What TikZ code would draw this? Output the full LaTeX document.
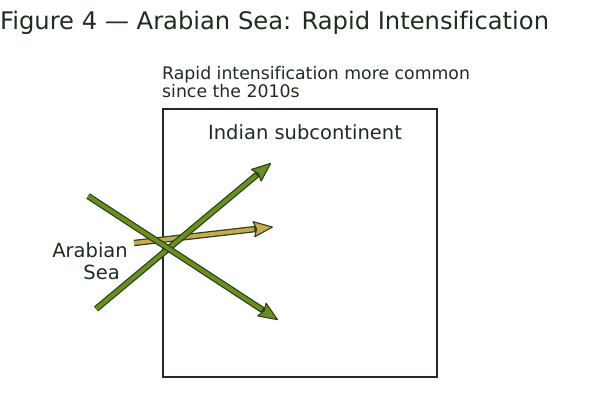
\documentclass[tikz,border=0pt]{standalone}
\usepackage{fontspec}
\setmainfont{DejaVu Sans}[Ligatures=NoCommon]
\usetikzlibrary{arrows.meta}
\definecolor{txt}{HTML}{1E2D1E}
\definecolor{edge}{HTML}{2A4218}
\definecolor{leaf}{HTML}{6B8E23}
\definecolor{sand}{HTML}{C8A850}
\begin{document}
\begin{tikzpicture}[x=1pt,y=-1pt,
  lbl/.style={text=txt,font=\fontsize{19.5}{22}\selectfont,inner sep=0pt},
  outer/.style={draw=edge,line width=6.4pt,
    -{Stealth[length=21pt,width=17pt,inset=3pt,fill=#1,line width=1.1pt,round]}},
  inner/.style={draw=#1,line width=3.9pt,shorten >=19pt},
  framebox/.style={draw=txt,line width=1.8pt}]
\useasboundingbox (0,0) rectangle (600,400);
\node[lbl,font=\fontsize{24.2}{26}\selectfont,anchor=base west] (title) at (0,29.3) {Figure 4 — Arabian Sea: Rapid Intensification};
\node[framebox,minimum width=274pt,minimum height=268pt,anchor=north west,inner sep=0pt] (land) at (162,108) {};
\node[lbl,font=\fontsize{17.3}{18}\selectfont,anchor=base west,align=left] (note) at (162,97.3) {Rapid intensification more common\\since the 2010s};
\node[lbl,anchor=base] (india) at (305,139) {Indian subcontinent};
\node[lbl,anchor=base east,align=right] (sea) at (128,279.3) {Arabian\\Sea\hspace*{8pt}};
\coordinate (g0) at (134,243);
\coordinate (g1) at (273,227);
\coordinate (a0) at (96,309);
\coordinate (a1) at (271,163);
\coordinate (b0) at (88,196);
\coordinate (b1) at (278,320);
\draw[outer=sand] (g0) -- (g1);
\draw[inner=sand] (g0) -- (g1);
\draw[outer=leaf] (a0) -- (a1);
\draw[inner=leaf] (a0) -- (a1);
\draw[outer=leaf] (b0) -- (b1);
\draw[inner=leaf] (b0) -- (b1);
\end{tikzpicture}
\end{document}
